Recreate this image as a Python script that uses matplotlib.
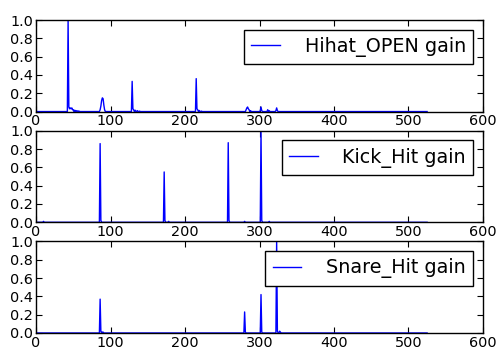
import numpy as np
import matplotlib.pyplot as plt

# number of frames in each gain track
n_frames = 526

# spikes: (frame index, gain)
hihat_idx = [42, 43, 44, 45, 46, 47, 48, 49, 50, 52, 54, 56, 58,
             86, 87, 88, 89, 90, 91, 92,
             128, 129, 130, 131, 133, 136, 139,
             214, 215, 216, 217, 219, 222,
             282, 283, 284, 285, 286, 288,
             301, 302, 303, 311, 313, 322, 323, 324]
hihat_val = [0.0, 1.0, 0.05, 0.03, 0.04, 0.03, 0.04, 0.02, 0.02, 0.015, 0.01, 0.008, 0.004,
             0.02, 0.06, 0.12, 0.15, 0.14, 0.07, 0.02,
             0.0, 0.33, 0.03, 0.02, 0.015, 0.01, 0.005,
             0.0, 0.36, 0.03, 0.02, 0.012, 0.005,
             0.02, 0.04, 0.05, 0.03, 0.02, 0.01,
             0.01, 0.05, 0.01, 0.02, 0.01, 0.01, 0.04, 0.01]

kick_idx = [10, 85, 86, 87, 171, 172, 173, 178, 257, 258, 259, 280, 301, 302, 303, 313]
kick_val = [0.01, 0.0, 0.86, 0.02, 0.0, 0.55, 0.02, 0.01, 0.0, 0.87, 0.02, 0.01, 0.0, 1.0, 0.02, 0.01]

snare_idx = [85, 86, 87, 89, 90, 279, 280, 281, 301, 302, 303, 322, 323, 324, 327, 328]
snare_val = [0.0, 0.37, 0.02, 0.01, 0.01, 0.0, 0.23, 0.01, 0.0, 0.42, 0.01, 0.0, 1.0, 0.02, 0.02, 0.01]

labels = ['Hihat_OPEN gain', 'Kick_Hit gain', 'Snare_Hit gain']


def build(idx, val):
    g = np.zeros(n_frames)
    g[idx] = val
    return g


tracks = [build(hihat_idx, hihat_val), build(kick_idx, kick_val), build(snare_idx, snare_val)]

fig, axes = plt.subplots(3, 1, figsize=(5.01, 3.52), dpi=100)
fig.subplots_adjust(left=0.072, right=0.964, top=0.943, bottom=0.054, hspace=0.21)

for ax, g, lab in zip(axes, tracks, labels):
    ax.plot(np.arange(n_frames), g, color='b', linewidth=1.0, label=lab)
    ax.set_xlim(0, 600)
    ax.set_ylim(0, 1.0)
    ax.set_xticks([0, 100, 200, 300, 400, 500, 600])
    ax.set_yticks([0.0, 0.2, 0.4, 0.6, 0.8, 1.0])
    ax.tick_params(direction='in', top=True, right=True, labelsize=10.4, length=4, pad=2)
    for s in ax.spines.values():
        s.set_linewidth(1.0)
    leg = ax.legend(loc='upper right', fontsize=13.8, fancybox=False, framealpha=1,
                    handlelength=1.5, handletextpad=1.3, borderpad=0.38, borderaxespad=0.5)
    leg.get_frame().set_edgecolor('black')
    leg.get_frame().set_linewidth(1.0)

fig.savefig('out.png', facecolor='white')
